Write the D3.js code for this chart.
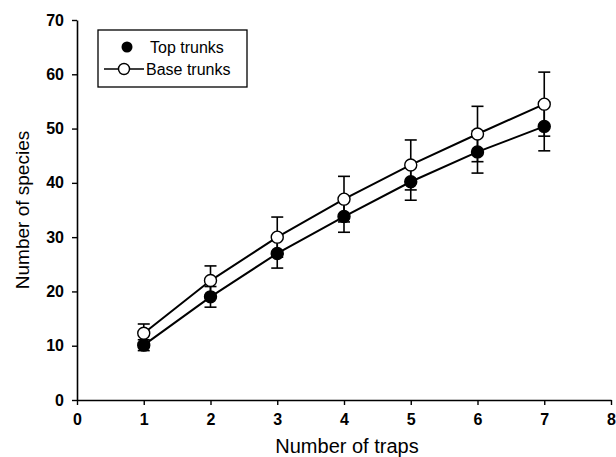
<!DOCTYPE html>
<html>
<head>
<meta charset="utf-8">
<script src="https://cdn.jsdelivr.net/npm/d3@7"></script>
<style>
  body { margin: 0; background: #fff; }
  text { font-family: "Liberation Sans", Arial, sans-serif; fill: #000; }
</style>
</head>
<body>
<div id="chart"></div>
<script>
const traps = [1, 2, 3, 4, 5, 6, 7];
const topMean = [10.1, 19.0, 27.0, 33.8, 40.2, 45.7, 50.4];
const topErr = [1.0, 1.9, 2.7, 2.9, 3.4, 3.9, 4.5];
const baseMean = [12.3, 22.0, 30.0, 37.0, 43.3, 49.0, 54.5];
const baseErr = [1.7, 2.7, 3.7, 4.2, 4.6, 5.1, 5.9];
const xTicks = [0, 1, 2, 3, 4, 5, 6, 7, 8];
const yTicks = [0, 10, 20, 30, 40, 50, 60, 70];

const width = 616, height = 457;
const svg = d3.select("#chart").append("svg")
    .attr("width", width).attr("height", height);

const x = d3.scaleLinear().domain([0, 8]).range([77, 611]);
const y = d3.scaleLinear().domain([0, 70]).range([400, 20]);

// axes
const xAxis = svg.append("g")
    .attr("transform", `translate(0,${y(0)})`)
    .call(d3.axisBottom(x).tickValues(xTicks).tickSize(5).tickPadding(6).tickSizeOuter(0));
const yAxis = svg.append("g")
    .attr("transform", `translate(${x(0)},0)`)
    .call(d3.axisLeft(y).tickValues(yTicks).tickSize(5).tickPadding(8).tickSizeOuter(0));

[xAxis, yAxis].forEach(g => {
    g.select(".domain").attr("stroke", "#000").attr("stroke-width", 1.6);
    g.selectAll(".tick line").attr("stroke", "#000").attr("stroke-width", 1.4);
    g.selectAll(".tick text")
        .style("font-family", "'Liberation Sans', Arial, sans-serif")
        .style("font-size", "16px").style("font-weight", "bold").attr("fill", "#000");
});
xAxis.selectAll(".tick text").attr("dy", "0.85em");

svg.append("text")
    .attr("x", 347).attr("y", 453)
    .attr("text-anchor", "middle")
    .style("font-size", "20px")
    .text("Number of traps");

svg.append("text")
    .attr("transform", `translate(29,${y(35)}) rotate(-90)`)
    .attr("text-anchor", "middle")
    .style("font-size", "19px")
    .text("Number of species");

const series = [
    { name: "Top trunks", mean: topMean, err: topErr, fill: "#000" },
    { name: "Base trunks", mean: baseMean, err: baseErr, fill: "#fff" }
];

const line = d3.line().x(d => x(d[0])).y(d => y(d[1]));

series.forEach(s => {
    const pts = traps.map((t, i) => [t, s.mean[i], s.err[i]]);
    const g = svg.append("g");
    // error bars
    pts.forEach(p => {
        g.append("line")
            .attr("x1", x(p[0])).attr("x2", x(p[0]))
            .attr("y1", y(p[1] - p[2])).attr("y2", y(p[1] + p[2]))
            .attr("stroke", "#000").attr("stroke-width", 1.6);
        [p[1] - p[2], p[1] + p[2]].forEach(v => {
            g.append("line")
                .attr("x1", x(p[0]) - 6).attr("x2", x(p[0]) + 6)
                .attr("y1", y(v)).attr("y2", y(v))
                .attr("stroke", "#000").attr("stroke-width", 1.6);
        });
    });
    s.g = g;
    s.pts = pts;
});

series.forEach(s => {
    s.g.append("path")
        .datum(s.pts)
        .attr("d", line)
        .attr("fill", "none")
        .attr("stroke", "#000")
        .attr("stroke-width", 2);
});

series.forEach(s => {
    s.g.selectAll("circle")
        .data(s.pts)
        .join("circle")
        .attr("cx", d => x(d[0]))
        .attr("cy", d => y(d[1]))
        .attr("r", 6)
        .attr("fill", s.fill)
        .attr("stroke", "#000")
        .attr("stroke-width", 1.4);
});

// legend
const legend = svg.append("g");
legend.append("rect")
    .attr("x", 98).attr("y", 30).attr("width", 149).attr("height", 57)
    .attr("fill", "#fff").attr("stroke", "#000").attr("stroke-width", 1.3);
legend.append("circle").attr("cx", 127).attr("cy", 47).attr("r", 5.5).attr("fill", "#000");
legend.append("text").attr("x", 150).attr("y", 53).style("font-size", "16px").text("Top trunks");
legend.append("line").attr("x1", 104).attr("x2", 144).attr("y1", 69).attr("y2", 69)
    .attr("stroke", "#000").attr("stroke-width", 1.6);
legend.append("circle").attr("cx", 124).attr("cy", 69).attr("r", 5.5)
    .attr("fill", "#fff").attr("stroke", "#000").attr("stroke-width", 1.4);
legend.append("text").attr("x", 146).attr("y", 75).style("font-size", "16px").text("Base trunks");
</script>
</body>
</html>
